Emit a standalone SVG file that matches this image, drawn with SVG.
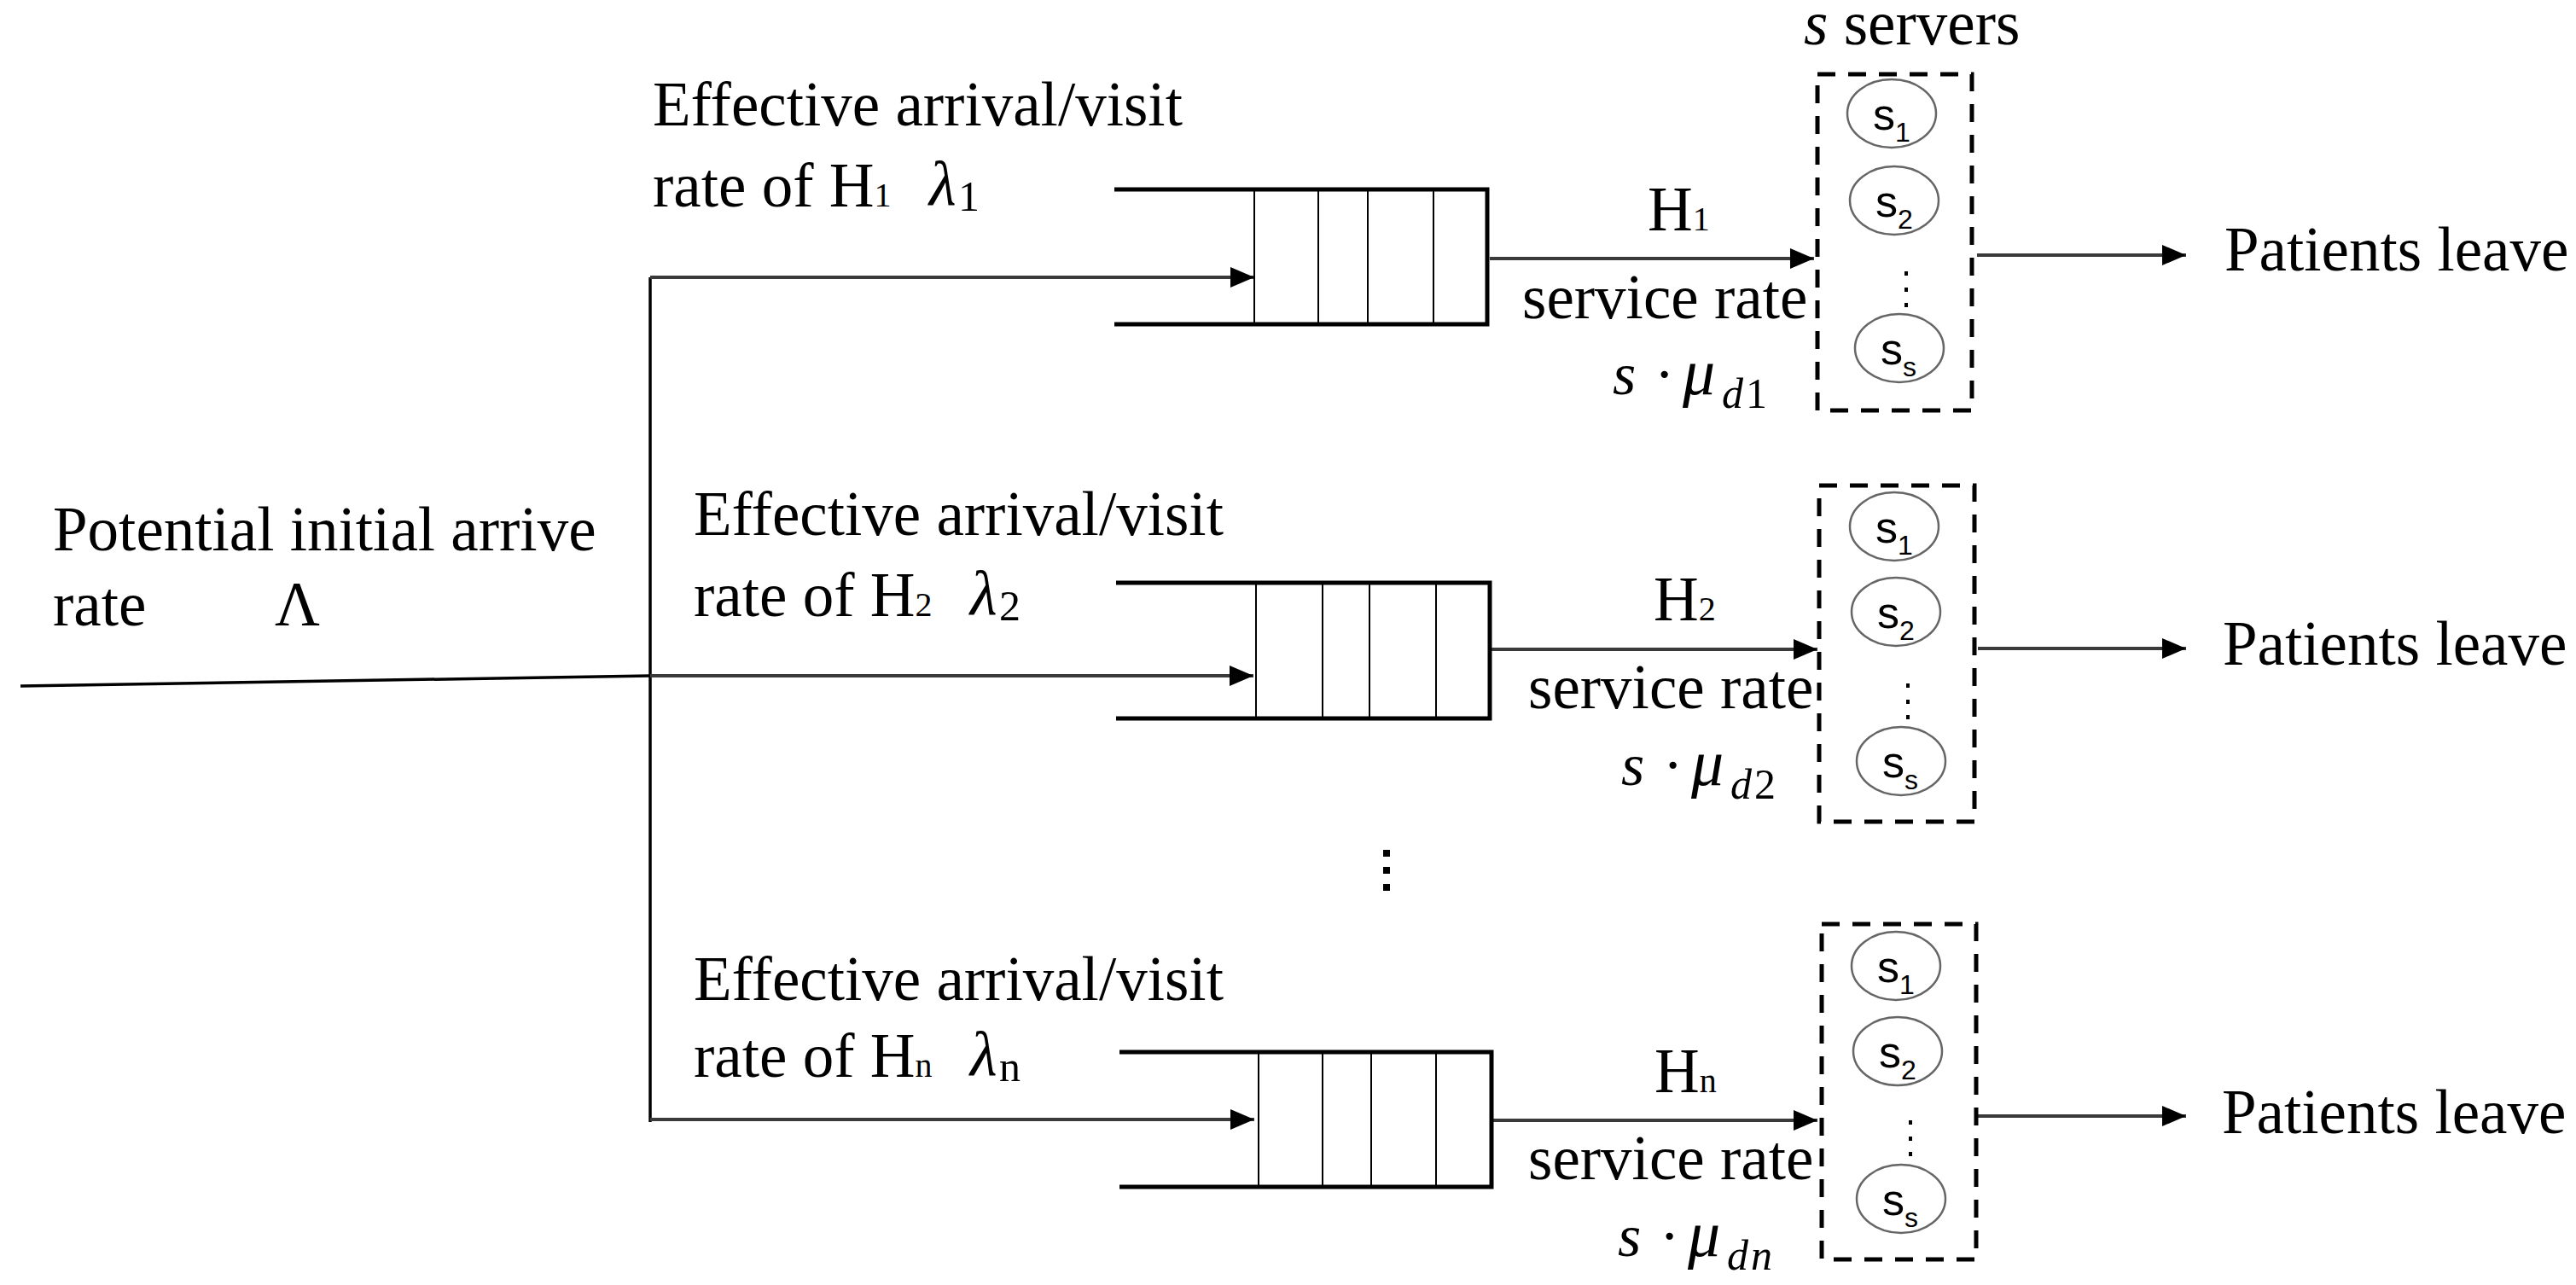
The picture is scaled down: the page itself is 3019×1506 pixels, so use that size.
<svg xmlns="http://www.w3.org/2000/svg" width="3019" height="1506" viewBox="0 0 3019 1506">
<style>
.t{font-family:"Liberation Serif","Times New Roman",serif;font-size:73px;fill:#000}
.sm{font-size:40px}
.sub{font-size:50px}
.it{font-style:italic}
.math{font-family:"Liberation Serif","Times New Roman",serif;font-size:70px;fill:#000}
.mu{font-size:76px}
.sv{font-family:"Liberation Sans",Arial,sans-serif;font-size:52px;fill:#000}
.svs{font-size:32px}
.q{fill:none;stroke:#000;stroke-width:5}
.div{stroke:#000;stroke-width:2}
.box{fill:none;stroke:#000;stroke-width:5;stroke-dasharray:21 15}
.srv{fill:#fff;stroke:#666;stroke-width:2.5}
.dot{fill:#000}
.arr{fill:none;stroke:#3a3a3a;stroke-width:4;marker-end:url(#ah)}
.ln{fill:none;stroke:#000;stroke-width:3.5}
</style>
<defs>
<marker id="ah" markerUnits="userSpaceOnUse" markerWidth="30" markerHeight="26" refX="28" refY="13" orient="auto">
<path d="M0,1 L28,13 L0,25 z" fill="#000"/>
</marker>
</defs>
<rect width="3019" height="1506" fill="#fff"/>

<g id="connectors">
<path class="ln" d="M24,804 L762,792"/>
<path class="ln" d="M762,325 V1315"/>
<path class="arr" d="M762,325 H1470"/>
<path class="arr" d="M762,792 H1469"/>
<path class="arr" d="M762,1312 H1470"/>
<path class="arr" d="M1746,303 H2126"/>
<path class="arr" d="M1748,761 H2130"/>
<path class="arr" d="M1750,1313 H2130"/>
<path class="arr" d="M2317,299 H2562"/>
<path class="arr" d="M2318,760 H2562"/>
<path class="arr" d="M2318,1308 H2562"/>
</g>

<g id="input-label">
<text class="t" x="62" y="645">Potential initial arrive</text>
<text class="t" x="62" y="733">rate</text>
<text class="t" x="322" y="733">Λ</text>
</g>

<g id="arrival-label-1">
<text class="t" x="765" y="147">Effective arrival/visit</text>
<text class="t" x="765" y="242">rate of H<tspan class="sm">1</tspan></text>
<text class="t it" x="1089" y="240">λ</text>
<text class="t sub" x="1123" y="247">1</text>
</g>
<g id="arrival-label-2">
<text class="t" x="813" y="627">Effective arrival/visit</text>
<text class="t" x="813" y="722">rate of H<tspan class="sm">2</tspan></text>
<text class="t it" x="1137" y="720">λ</text>
<text class="t sub" x="1171" y="727">2</text>
</g>
<g id="arrival-label-n">
<text class="t" x="813" y="1172">Effective arrival/visit</text>
<text class="t" x="813" y="1262">rate of H<tspan class="sm">n</tspan></text>
<text class="t it" x="1137" y="1260">λ</text>
<text class="t sub" x="1171" y="1267">n</text>
</g>

<g id="queue-1">
<path class="q" d="M1306,222 H1743 V380 H1306"/>
<path class="div" d="M1470,222 V380 M1545,222 V380 M1603,222 V380 M1680,222 V380"/>
</g>
<g id="queue-2">
<path class="q" d="M1308,683 H1746 V842 H1308"/>
<path class="div" d="M1472,683 V842 M1550,683 V842 M1605,683 V842 M1683,683 V842"/>
</g>
<g id="queue-n">
<path class="q" d="M1312,1233 H1748 V1391 H1312"/>
<path class="div" d="M1475,1233 V1391 M1550,1233 V1391 M1607,1233 V1391 M1683,1233 V1391"/>
</g>

<g id="service-label-1">
<text class="t" x="1931" y="270">H<tspan class="sm">1</tspan></text>
<text class="t" x="1784" y="373">service rate</text>
<text class="math"><tspan class="it" x="1890" y="462">s</tspan><tspan x="1939" y="462">·</tspan><tspan class="it mu" x="1972" y="462">μ</tspan><tspan class="it sub" x="2018" y="478">d</tspan><tspan class="sub" x="2046" y="478">1</tspan></text>
</g>
<g id="service-label-2">
<text class="t" x="1938" y="727">H<tspan class="sm">2</tspan></text>
<text class="t" x="1791" y="830">service rate</text>
<text class="math"><tspan class="it" x="1900" y="920">s</tspan><tspan x="1949" y="920">·</tspan><tspan class="it mu" x="1982" y="920">μ</tspan><tspan class="it sub" x="2028" y="936">d</tspan><tspan class="sub" x="2056" y="936">2</tspan></text>
</g>
<g id="service-label-n">
<text class="t" x="1939" y="1280">H<tspan class="sm">n</tspan></text>
<text class="t" x="1791" y="1382">service rate</text>
<text class="math"><tspan class="it" x="1896" y="1472">s</tspan><tspan x="1945" y="1472">·</tspan><tspan class="it mu" x="1978" y="1472">μ</tspan><tspan class="it sub" x="2024" y="1488">d</tspan><tspan class="it sub" x="2052" y="1488">n</tspan></text>
</g>

<g id="servers-title">
<text class="t" x="2114" y="52"><tspan class="it">s</tspan> servers</text>
</g>

<g id="servers-1">
<rect class="box" x="2130" y="87" width="181" height="394"/>
<ellipse class="srv" cx="2217" cy="133" rx="52" ry="40"/>
<text class="sv" x="2195" y="152">s<tspan class="svs" x="2221" y="166">1</tspan></text>
<ellipse class="srv" cx="2220" cy="235" rx="52" ry="40"/>
<text class="sv" x="2198" y="254">s<tspan class="svs" x="2224" y="268">2</tspan></text>
<rect class="dot" x="2232" y="318" width="4" height="5"/>
<rect class="dot" x="2232" y="337" width="4" height="5"/>
<rect class="dot" x="2232" y="355" width="4" height="5"/>
<ellipse class="srv" cx="2226" cy="408" rx="52" ry="40"/>
<text class="sv" x="2204" y="427">s<tspan class="svs" x="2230" y="441">s</tspan></text>
</g>
<g id="servers-2">
<rect class="box" x="2132" y="569" width="182" height="394"/>
<ellipse class="srv" cx="2220" cy="617" rx="52" ry="40"/>
<text class="sv" x="2198" y="636">s<tspan class="svs" x="2224" y="650">1</tspan></text>
<ellipse class="srv" cx="2222" cy="717" rx="52" ry="40"/>
<text class="sv" x="2200" y="736">s<tspan class="svs" x="2226" y="750">2</tspan></text>
<rect class="dot" x="2234" y="801" width="4" height="5"/>
<rect class="dot" x="2234" y="820" width="4" height="5"/>
<rect class="dot" x="2234" y="838" width="4" height="5"/>
<ellipse class="srv" cx="2228" cy="892" rx="52" ry="40"/>
<text class="sv" x="2206" y="911">s<tspan class="svs" x="2232" y="925">s</tspan></text>
</g>
<g id="servers-n">
<rect class="box" x="2135" y="1083" width="181" height="393"/>
<ellipse class="srv" cx="2222" cy="1132" rx="52" ry="40"/>
<text class="sv" x="2200" y="1151">s<tspan class="svs" x="2226" y="1165">1</tspan></text>
<ellipse class="srv" cx="2224" cy="1232" rx="52" ry="40"/>
<text class="sv" x="2202" y="1251">s<tspan class="svs" x="2228" y="1265">2</tspan></text>
<rect class="dot" x="2237" y="1313" width="4" height="5"/>
<rect class="dot" x="2237" y="1332" width="4" height="5"/>
<rect class="dot" x="2237" y="1350" width="4" height="5"/>
<ellipse class="srv" cx="2228" cy="1405" rx="52" ry="40"/>
<text class="sv" x="2206" y="1424">s<tspan class="svs" x="2232" y="1438">s</tspan></text>
</g>

<g id="leave-1"><text class="t" x="2607" y="317">Patients leave</text></g>
<g id="leave-2"><text class="t" x="2605" y="779">Patients leave</text></g>
<g id="leave-n"><text class="t" x="2604" y="1328">Patients leave</text></g>

<g id="ellipsis">
<rect class="dot" x="1621" y="996" width="8" height="8"/>
<rect class="dot" x="1621" y="1016" width="8" height="8"/>
<rect class="dot" x="1621" y="1036" width="8" height="8"/>
</g>
</svg>
